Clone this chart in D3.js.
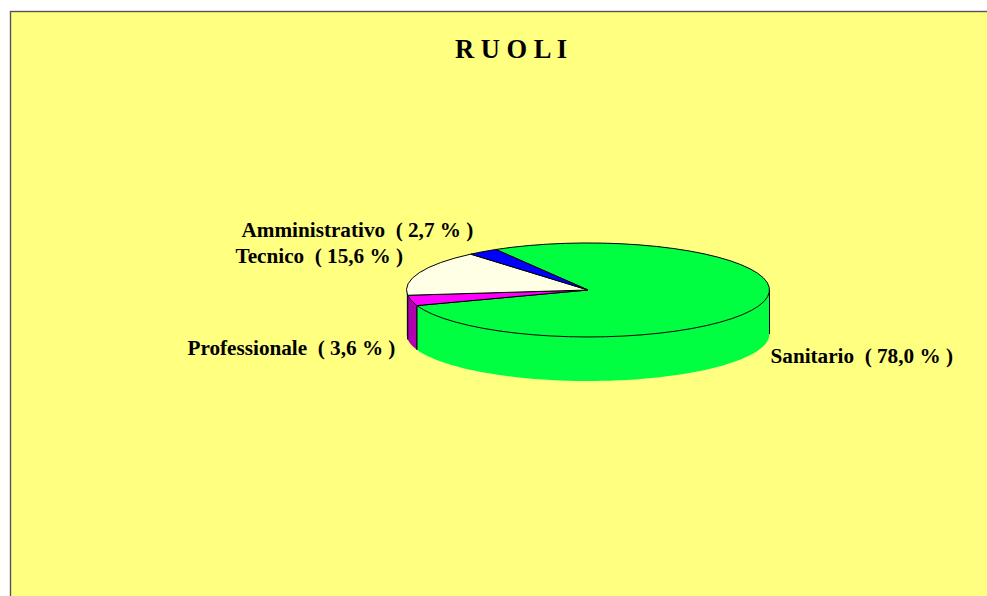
<!DOCTYPE html>
<html>
<head>
<meta charset="utf-8">
<script src="https://cdn.jsdelivr.net/npm/d3@7"></script>
<style>
  html, body { margin: 0; padding: 0; background: #fff; overflow: hidden; }
  svg { display: block; }
  text { font-family: "Liberation Serif", serif; font-weight: bold; fill: #000; white-space: pre; }
</style>
</head>
<body>
<script>
// Dati del grafico
const categories = ['Sanitario', 'Professionale', 'Tecnico', 'Amministrativo'];
const percentages = [78.0, 3.6, 15.6, 2.7];
const percentLabels = ['78,0', '3,6', '15,6', '2,7'];

// Parametri della visualizzazione
const width = 987;
const height = 596;
const center = { x: 588, y: 290 };
const radiusX = 181.5;
const radiusY = 47;
const depth = 44;
const startAngle = -30.5 * Math.PI / 180;

const topColors = ['#00ff40', '#ff00ff', '#ffffe6', '#0000ff'];
const wallColors = ['#00ff40', '#b000b0', '#a8a898', '#000090'];

// posizione delle etichette (x, baseline)
const labelPos = [
  { x: 770.5, y: 363 },
  { x: 187.5, y: 355 },
  { x: 235.5, y: 263 },
  { x: 241.5, y: 237 }
];

const svg = d3.select('body')
  .append('svg')
  .attr('width', width)
  .attr('height', height);

// sfondo dell'area del grafico
svg.append('rect')
  .attr('x', 10.5)
  .attr('y', 11.5)
  .attr('width', width + 20)
  .attr('height', height + 20)
  .attr('fill', '#ffff80')
  .attr('stroke', '#555')
  .attr('stroke-width', 1.4);

svg.append('text')
  .attr('x', 511)
  .attr('y', 57.5)
  .attr('text-anchor', 'middle')
  .attr('font-size', '26.5px')
  .text('R U O L I');

// fette
const pie = d3.pie()
  .sort(null)
  .startAngle(startAngle)
  .endAngle(startAngle + 2 * Math.PI);
const slices = pie(percentages);

const ellipseX = a => center.x + radiusX * Math.sin(a);
const ellipseY = a => center.y - radiusY * Math.cos(a);

// parete laterale: solo la parte frontale (da 90 a 270 gradi)
const walls = svg.append('g');
slices.forEach((s, i) => {
  const ranges = [];
  [0, 2 * Math.PI].forEach(shift => {
    const a0 = Math.max(s.startAngle + shift, Math.PI / 2);
    const a1 = Math.min(s.endAngle + shift, 3 * Math.PI / 2);
    if (a1 > a0) ranges.push([a0, a1]);
  });
  ranges.forEach(([a0, a1]) => {
    const angles = d3.range(0, 61).map(k => a0 + (a1 - a0) * k / 60);
    const top = angles.map(a => [ellipseX(a), ellipseY(a)]);
    const bottom = angles.slice().reverse().map(a => [ellipseX(a), ellipseY(a) + depth]);
    walls.append('path')
      .attr('d', d3.line()(top.concat(bottom)) + 'Z')
      .attr('fill', wallColors[i]);
    // spigoli verticali
    [a0, a1].forEach(a => {
      if (a === Math.PI / 2 || i !== 0 || a > Math.PI) {
        walls.append('line')
          .attr('x1', ellipseX(a))
          .attr('x2', ellipseX(a))
          .attr('y1', ellipseY(a))
          .attr('y2', ellipseY(a) + depth)
          .attr('stroke', '#000')
          .attr('stroke-width', a === 3 * Math.PI / 2 ? 0 : 1);
      }
    });
  });
});

// faccia superiore: arco unitario scalato in un'ellisse
const arc = d3.arc().innerRadius(0).outerRadius(1);
svg.append('g')
  .attr('transform', `translate(${center.x}, ${center.y}) scale(${radiusX}, ${radiusY})`)
  .selectAll('path')
  .data(slices)
  .join('path')
    .attr('d', arc)
    .attr('fill', (d, i) => topColors[i])
    .attr('stroke', '#000')
    .attr('stroke-width', 1)
    .attr('vector-effect', 'non-scaling-stroke');

// etichette
svg.append('g')
  .selectAll('text')
  .data(categories)
  .join('text')
    .attr('x', (d, i) => labelPos[i].x)
    .attr('y', (d, i) => labelPos[i].y)
    .attr('font-size', '21.2px')
    .text((d, i) => `${d}  ( ${percentLabels[i]} % )`);
</script>
</body>
</html>
